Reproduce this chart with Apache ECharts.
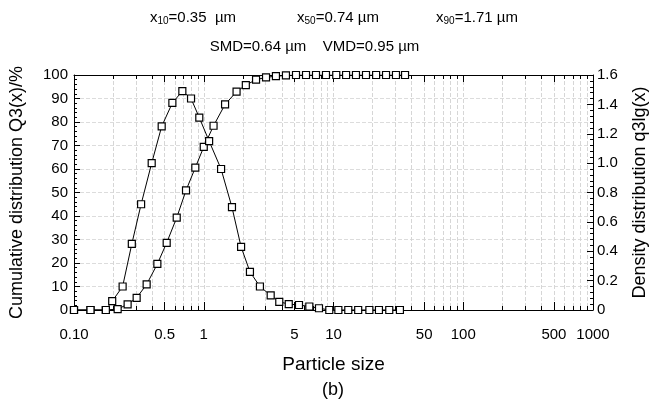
<!DOCTYPE html>
<html>
<head>
<meta charset="utf-8">
<script src="https://cdn.jsdelivr.net/npm/echarts@6/dist/echarts.min.js"></script>
<style>
  html, body { margin: 0; background: #fff; }
  #chart { width: 666px; height: 404px; }
</style>
</head>
<body>
<div id="chart"></div>
<script>
// density distribution q3lg(x), right axis
const densitySize = [0.1, 0.134, 0.176, 0.197, 0.237, 0.279, 0.329, 0.397, 0.474, 0.573, 0.684, 0.798, 0.924,
  1.10, 1.36, 1.65, 1.94, 2.27, 2.71, 3.28, 3.82, 4.52, 5.42, 6.51, 7.73, 9.28,
  10.9, 13.0, 15.5, 18.9, 22.4, 26.9, 32.5]
const densityValue = [0, 0, 0, 0.06, 0.16, 0.45, 0.72, 1.00, 1.25, 1.41, 1.49, 1.44, 1.31,
  1.15, 0.96, 0.70, 0.43, 0.26, 0.16, 0.10, 0.056, 0.04, 0.034, 0.024, 0.012, 0,
  0, 0, 0, 0, 0, 0, 0]

// cumulative distribution Q3(x) in %, left axis
const cumSize = [0.1, 0.134, 0.176, 0.217, 0.259, 0.304, 0.363, 0.439, 0.518, 0.619, 0.730, 0.861,
  1.00, 1.19, 1.46, 1.79, 2.11, 2.53, 3.02, 3.60, 4.30, 5.14, 6.14, 7.33, 8.75,
  10.5, 12.5, 14.9, 17.8, 21.3, 25.4, 30.3, 35.6]
const cumValue = [0, 0, 0, 0.4, 2.4, 5.2, 10.9, 19.6, 28.6, 39.3, 50.9, 60.6,
  69.4, 78.4, 87.5, 92.9, 95.7, 98.0, 99.0, 99.5, 99.8, 100, 100, 100, 100,
  100, 100, 100, 100, 100, 100, 100, 100]

// x axis labels and the log minor ticks
const xLabels = [0.1, 0.5, 1, 5, 10, 50, 100, 500, 1000]
const xMinorTicks = [0.1, 0.2, 0.3, 0.4, 0.5, 0.6, 0.7, 0.8, 0.9,
  1, 2, 3, 4, 5, 6, 7, 8, 9, 10, 20, 30, 40, 50, 60, 70, 80, 90,
  100, 200, 300, 400, 500, 600, 700, 800, 900, 1000]

const chart = echarts.init(document.getElementById('chart'), null, { renderer: 'canvas' })

const black = '#000'
const font = '"Liberation Sans", Arial, sans-serif'

function logAxis(pos, opts) {
  return Object.assign({
    type: 'log',
    logBase: 10,
    min: 0.1,
    max: 1000,
    position: pos,
    axisLine: { show: true, lineStyle: { color: black, width: 1 } },
    axisLabel: { show: false },
    splitLine: { show: false }
  }, opts)
}

const rich = {
  a: { fontSize: 15, color: black, fontFamily: font },
  s: { fontSize: 10, color: black, fontFamily: font, verticalAlign: 'bottom', padding: [7, 0, 0, 0] }
}

function head(x, y, text) {
  return { type: 'text', x: x, y: y, style: { text: text, align: 'center', verticalAlign: 'middle', rich: rich, fill: black } }
}

chart.setOption({
  animation: false,
  backgroundColor: '#fff',
  textStyle: { fontFamily: font },
  grid: { left: 74, right: 73, top: 75, bottom: 94 },
  graphic: [
    head(193, 18, '{a|x}{s|10}{a|=0.35  µm}'),
    head(338, 18, '{a|x}{s|50}{a|=0.74 µm}'),
    head(477, 18, '{a|x}{s|90}{a|=1.71 µm}'),
    head(258, 47, '{a|SMD=0.64 µm}'),
    head(371, 47, '{a|VMD=0.95 µm}'),
    { type: 'text', x: 333, y: 390, style: { text: '(b)', align: 'center', verticalAlign: 'middle', fontSize: 18, fontFamily: font, fill: black } }
  ],
  xAxis: [
    logAxis('bottom', {
      name: 'Particle size',
      nameLocation: 'middle',
      nameGap: 45,
      nameTextStyle: { fontSize: 19, color: black },
      axisTick: { show: true, inside: true, length: 4, customValues: xMinorTicks, lineStyle: { color: black } },
      axisLabel: {
        show: true,
        customValues: xLabels,
        color: black,
        fontSize: 15,
        margin: 17,
        formatter: v => (v === 0.1 ? '0.10' : String(v))
      },
      splitLine: { show: true, lineStyle: { color: '#d6d6d6', type: 'dashed', width: 1 } }
    }),
    logAxis('bottom', {
      axisLine: { show: false },
      axisTick: { show: true, inside: true, length: 8, customValues: xLabels, lineStyle: { color: black } }
    }),
    logAxis('top', {
      axisTick: { show: true, inside: true, length: 4, customValues: xMinorTicks, lineStyle: { color: black } }
    }),
    logAxis('top', {
      axisLine: { show: false },
      axisTick: { show: true, inside: true, length: 7, customValues: xLabels, lineStyle: { color: black } }
    })
  ],
  yAxis: [
    {
      type: 'value',
      min: 0,
      max: 100,
      interval: 10,
      position: 'left',
      name: 'Cumulative distribution Q3(x)/%',
      nameLocation: 'middle',
      nameGap: 48,
      nameRotate: 90,
      nameTextStyle: { fontSize: 18, color: black },
      axisLine: { show: true, lineStyle: { color: black } },
      axisTick: { show: true, inside: true, length: 6, lineStyle: { color: black } },
      minorTick: { show: true, splitNumber: 5, length: 3, lineStyle: { color: black } },
      axisLabel: { color: black, fontSize: 15, margin: 6 },
      splitLine: { show: true, lineStyle: { color: '#dcdcdc', type: 'dashed' } }
    },
    {
      type: 'value',
      min: 0,
      max: 1.6,
      interval: 0.2,
      position: 'right',
      name: 'Density distribution q3lg(x)',
      nameLocation: 'middle',
      nameGap: 38,
      nameRotate: 90,
      nameTextStyle: { fontSize: 18, color: black },
      axisLine: { show: true, lineStyle: { color: black } },
      axisTick: { show: true, inside: true, length: 6, lineStyle: { color: black } },
      minorTick: { show: true, splitNumber: 5, length: 3, lineStyle: { color: black } },
      axisLabel: { color: black, fontSize: 15, margin: 4, formatter: v => (v === 0 ? '0' : v.toFixed(1)) },
      splitLine: { show: false }
    }
  ],
  series: [
    {
      name: 'Q3',
      type: 'line',
      xAxisIndex: 0,
      yAxisIndex: 0,
      data: cumSize.map((x, i) => [x, cumValue[i]]),
      symbol: 'rect',
      symbolSize: 7,
      showAllSymbol: true,
      lineStyle: { color: black, width: 1 },
      itemStyle: { color: '#fff', borderColor: black, borderWidth: 1.2 }
    },
    {
      name: 'q3lg',
      type: 'line',
      xAxisIndex: 0,
      yAxisIndex: 1,
      data: densitySize.map((x, i) => [x, densityValue[i]]),
      symbol: 'rect',
      symbolSize: 7,
      showAllSymbol: true,
      lineStyle: { color: black, width: 1 },
      itemStyle: { color: '#fff', borderColor: black, borderWidth: 1.2 }
    }
  ]
})
</script>
</body>
</html>
